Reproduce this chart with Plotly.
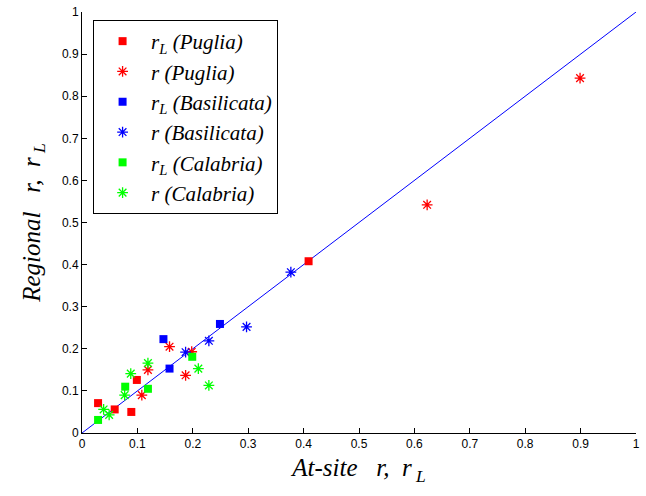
import plotly.graph_objects as go

# Puglia
puglia_rL_x = [0.029, 0.059, 0.089, 0.099, 0.409]
puglia_rL_y = [0.071, 0.056, 0.050, 0.126, 0.408]
puglia_r_x = [0.108, 0.119, 0.158, 0.187, 0.198, 0.623, 0.899]
puglia_r_y = [0.090, 0.150, 0.205, 0.137, 0.193, 0.542, 0.843]
# Basilicata
basil_rL_x = [0.147, 0.158, 0.249]
basil_rL_y = [0.223, 0.153, 0.259]
basil_r_x = [0.187, 0.229, 0.297, 0.377]
basil_r_y = [0.192, 0.219, 0.252, 0.382]
# Calabria
calab_rL_x = [0.029, 0.078, 0.119, 0.199]
calab_rL_y = [0.031, 0.110, 0.105, 0.181]
calab_r_x = [0.039, 0.049, 0.077, 0.088, 0.119, 0.210, 0.229]
calab_r_y = [0.056, 0.043, 0.090, 0.141, 0.166, 0.153, 0.113]

line_x = [0, 1]
line_y = [0, 1]
ticks = [round(i * 0.1, 1) for i in range(11)]
tick_text = ["0", "0.1", "0.2", "0.3", "0.4", "0.5", "0.6", "0.7", "0.8", "0.9", "1"]

RED, BLUE, GREEN = "#ff0000", "#0000ff", "#00ff00"
SERIF = "Liberation Serif"

fig = go.Figure()
fig.add_trace(go.Scatter(x=line_x, y=line_y, mode="lines",
                         line=dict(color=BLUE, width=1), showlegend=False, hoverinfo="skip"))

def sq(x, y, c, name):
    fig.add_trace(go.Scatter(x=x, y=y, mode="markers", name=name,
                             marker=dict(symbol="square", size=8, color=c, line=dict(width=0))))

def st(x, y, c, name):
    fig.add_trace(go.Scatter(x=x, y=y, mode="markers", name=name,
                             marker=dict(symbol="asterisk-open", size=9, color=c,
                                         line=dict(color=c, width=1.3))))

sq(puglia_rL_x, puglia_rL_y, RED, "r<sub>L</sub> (Puglia)")
st(puglia_r_x, puglia_r_y, RED, "r (Puglia)")
sq(basil_rL_x, basil_rL_y, BLUE, "r<sub>L</sub> (Basilicata)")
st(basil_r_x, basil_r_y, BLUE, "r (Basilicata)")
sq(calab_rL_x, calab_rL_y, GREEN, "r<sub>L</sub> (Calabria)")
st(calab_r_x, calab_r_y, GREEN, "r (Calabria)")

axis_common = dict(range=[0, 1], tickvals=ticks, ticktext=tick_text, ticks="inside",
                   ticklen=5, tickcolor="#000", showline=True, linecolor="#000", linewidth=1,
                   showgrid=False, zeroline=False, automargin=False,
                   tickfont=dict(family="Liberation Sans", size=12, color="#000"))

fig.update_layout(
    width=646, height=496,
    margin=dict(l=82, r=10, t=12, b=63, autoexpand=False),
    paper_bgcolor="white", plot_bgcolor="white",
    xaxis=dict(**axis_common,
               title=dict(text="At-site&nbsp;&nbsp; r,&nbsp; r<sub>&nbsp;L</sub>", standoff=8,
                          font=dict(family=SERIF, size=25, color="#000", style="italic"))),
    yaxis=dict(**axis_common,
               title=dict(text="Regional&nbsp;&nbsp; r,&nbsp; r<sub>&nbsp;L</sub>", standoff=14,
                          font=dict(family=SERIF, size=25, color="#000", style="italic"))),
    legend=dict(x=0.02, y=0.981, xanchor="left", yanchor="top",
                bordercolor="#000", borderwidth=1, bgcolor="white",
                font=dict(family=SERIF, size=21, color="#000", style="italic"),
                itemwidth=47, tracegroupgap=0),
)

fig.write_html("out.html")
